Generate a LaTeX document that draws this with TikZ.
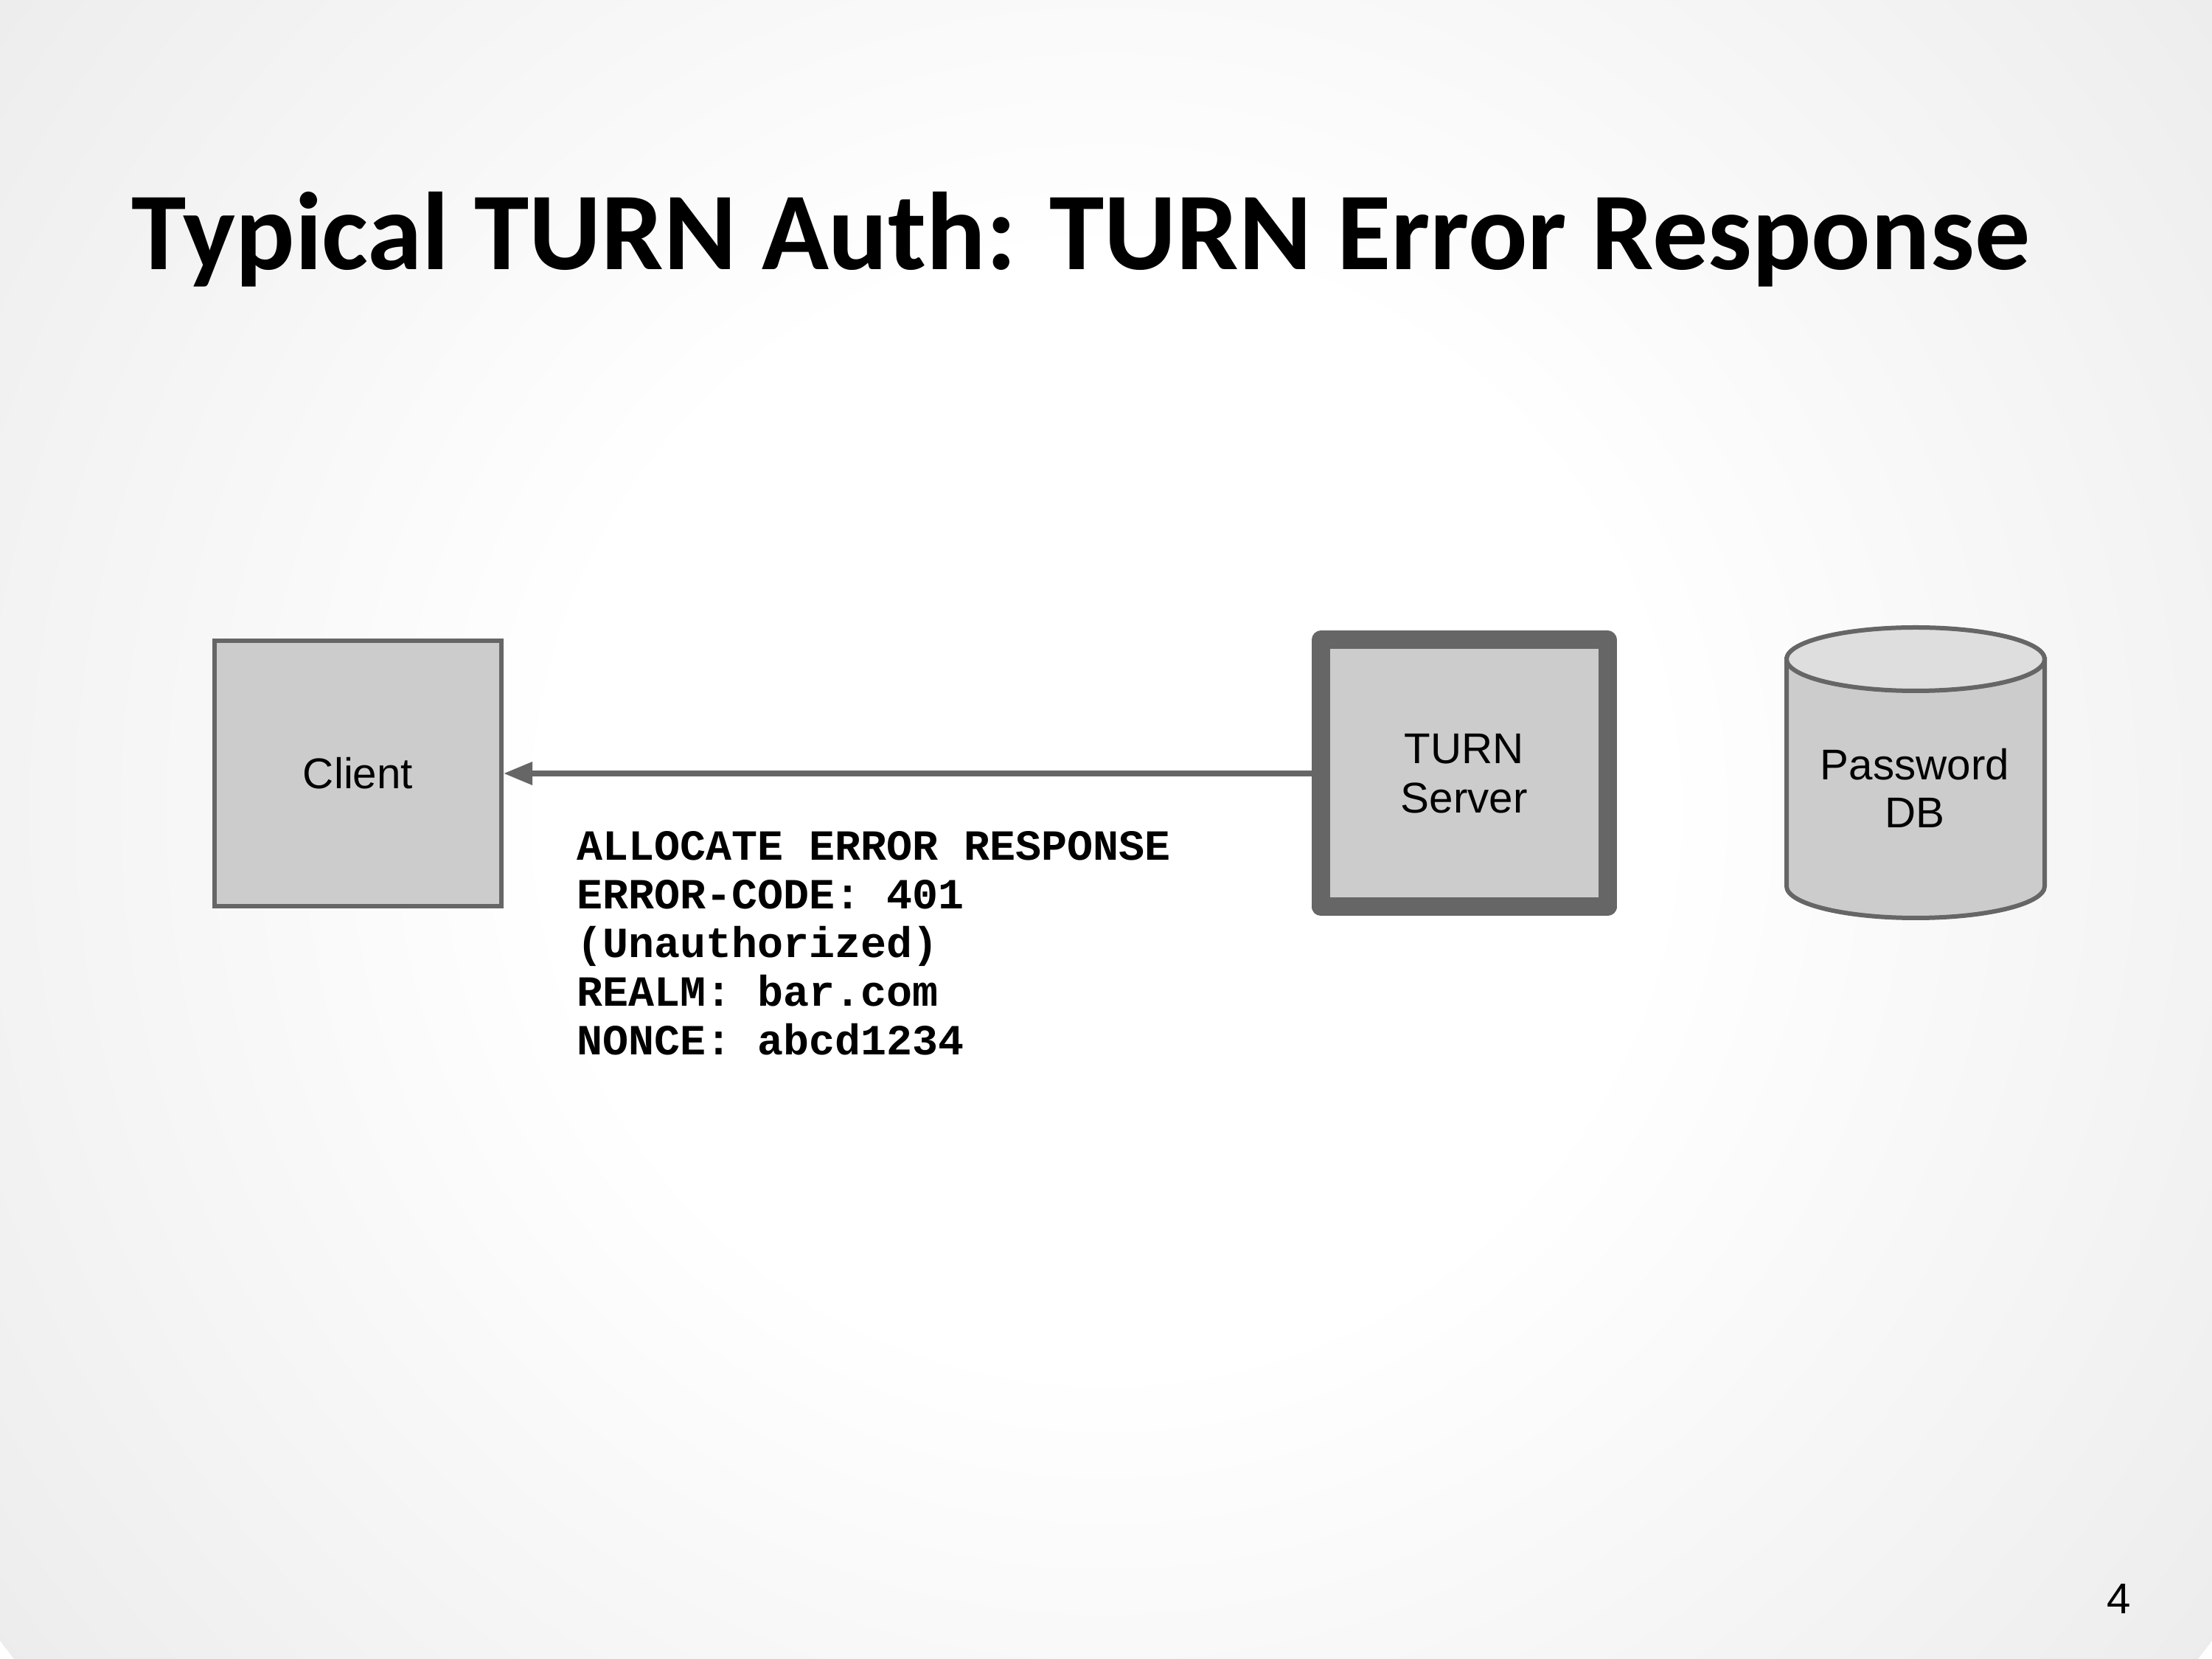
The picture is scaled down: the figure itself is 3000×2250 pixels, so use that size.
\documentclass[tikz,border=0pt]{standalone}
\usepackage{fontspec}
\setmainfont{Liberation Sans}
\newfontfamily\titlefont{Carlito}
\newfontfamily\codefont{Liberation Mono}
\usetikzlibrary{arrows.meta}
\definecolor{edgegray}{HTML}{666666}
\definecolor{boxfill}{HTML}{CCCCCC}
\definecolor{capfill}{HTML}{DEDEDE}
\definecolor{bgone}{RGB}{238,238,238}
\definecolor{bgtwo}{RGB}{218,218,218}
\definecolor{bgedge}{RGB}{207,207,207}
\pgfdeclareradialshading{slidebg}{\pgfpoint{0bp}{0bp}}{color(0bp)=(white); color(10bp)=(white); color(24bp)=(bgone); color(36bp)=(bgtwo); color(50bp)=(bgedge)}
\begin{document}
\begin{tikzpicture}[x=0.24pt,y=-0.24pt,
  box/.style={draw=edgegray, fill=boxfill, line width=1.44pt, minimum width=93.36pt, minimum height=86.4pt, inner sep=0pt, align=center, font=\fontsize{14pt}{16.1pt}\selectfont},
  label/.style={inner sep=0pt, align=center, font=\fontsize{14pt}{15.6pt}\selectfont}]
\useasboundingbox (0,0) rectangle (3000,2250);
\begin{scope}
\clip (0,0) rectangle (3000,2250);
\shade[shading=slidebg] (1500,1100) circle (1875);
\end{scope}

\node[anchor=base west, inner sep=0pt, font=\titlefont\bfseries\fontsize{36pt}{43pt}\selectfont] (title) at (178,366) {Typical TURN Auth: TURN Error Response};

\node[box] (client) at (485.5,1049) {Client};
\node[box, line width=6pt, line join=round, minimum width=93.24pt, minimum height=86.88pt] (turn) at (1985.75,1049) {TURN\\Server};

% cylinder
\path[draw=edgegray, fill=boxfill, line width=1.44pt] (2423,894) -- (2423,1202) arc[start angle=180, end angle=360, x radius=42pt, y radius=10.32pt] -- (2773,894) -- cycle;
\path[draw=edgegray, fill=capfill, line width=1.44pt] (2598,894) ellipse [x radius=42pt, y radius=10.32pt];
\node[label] (db) at (2597,1069) {Password\\DB};

\draw[edgegray, line width=1.7pt, -{Triangle[length=9.4pt,width=7.2pt]}] (turn.west) -- (client.east);

\node[anchor=base west, inner sep=0pt, align=left, font=\codefont\bfseries\fontsize{14pt}{15.84pt}\selectfont] (msg) at (782,1431) {ALLOCATE ERROR RESPONSE\\ERROR-CODE: 401\\(Unauthorized)\\REALM: bar.com\\NONCE: abcd1234};

\node[anchor=base, inner sep=0pt, font=\fontsize{14pt}{16pt}\selectfont] (pagenum) at (2874,2189) {4};
\end{tikzpicture}
\end{document}
